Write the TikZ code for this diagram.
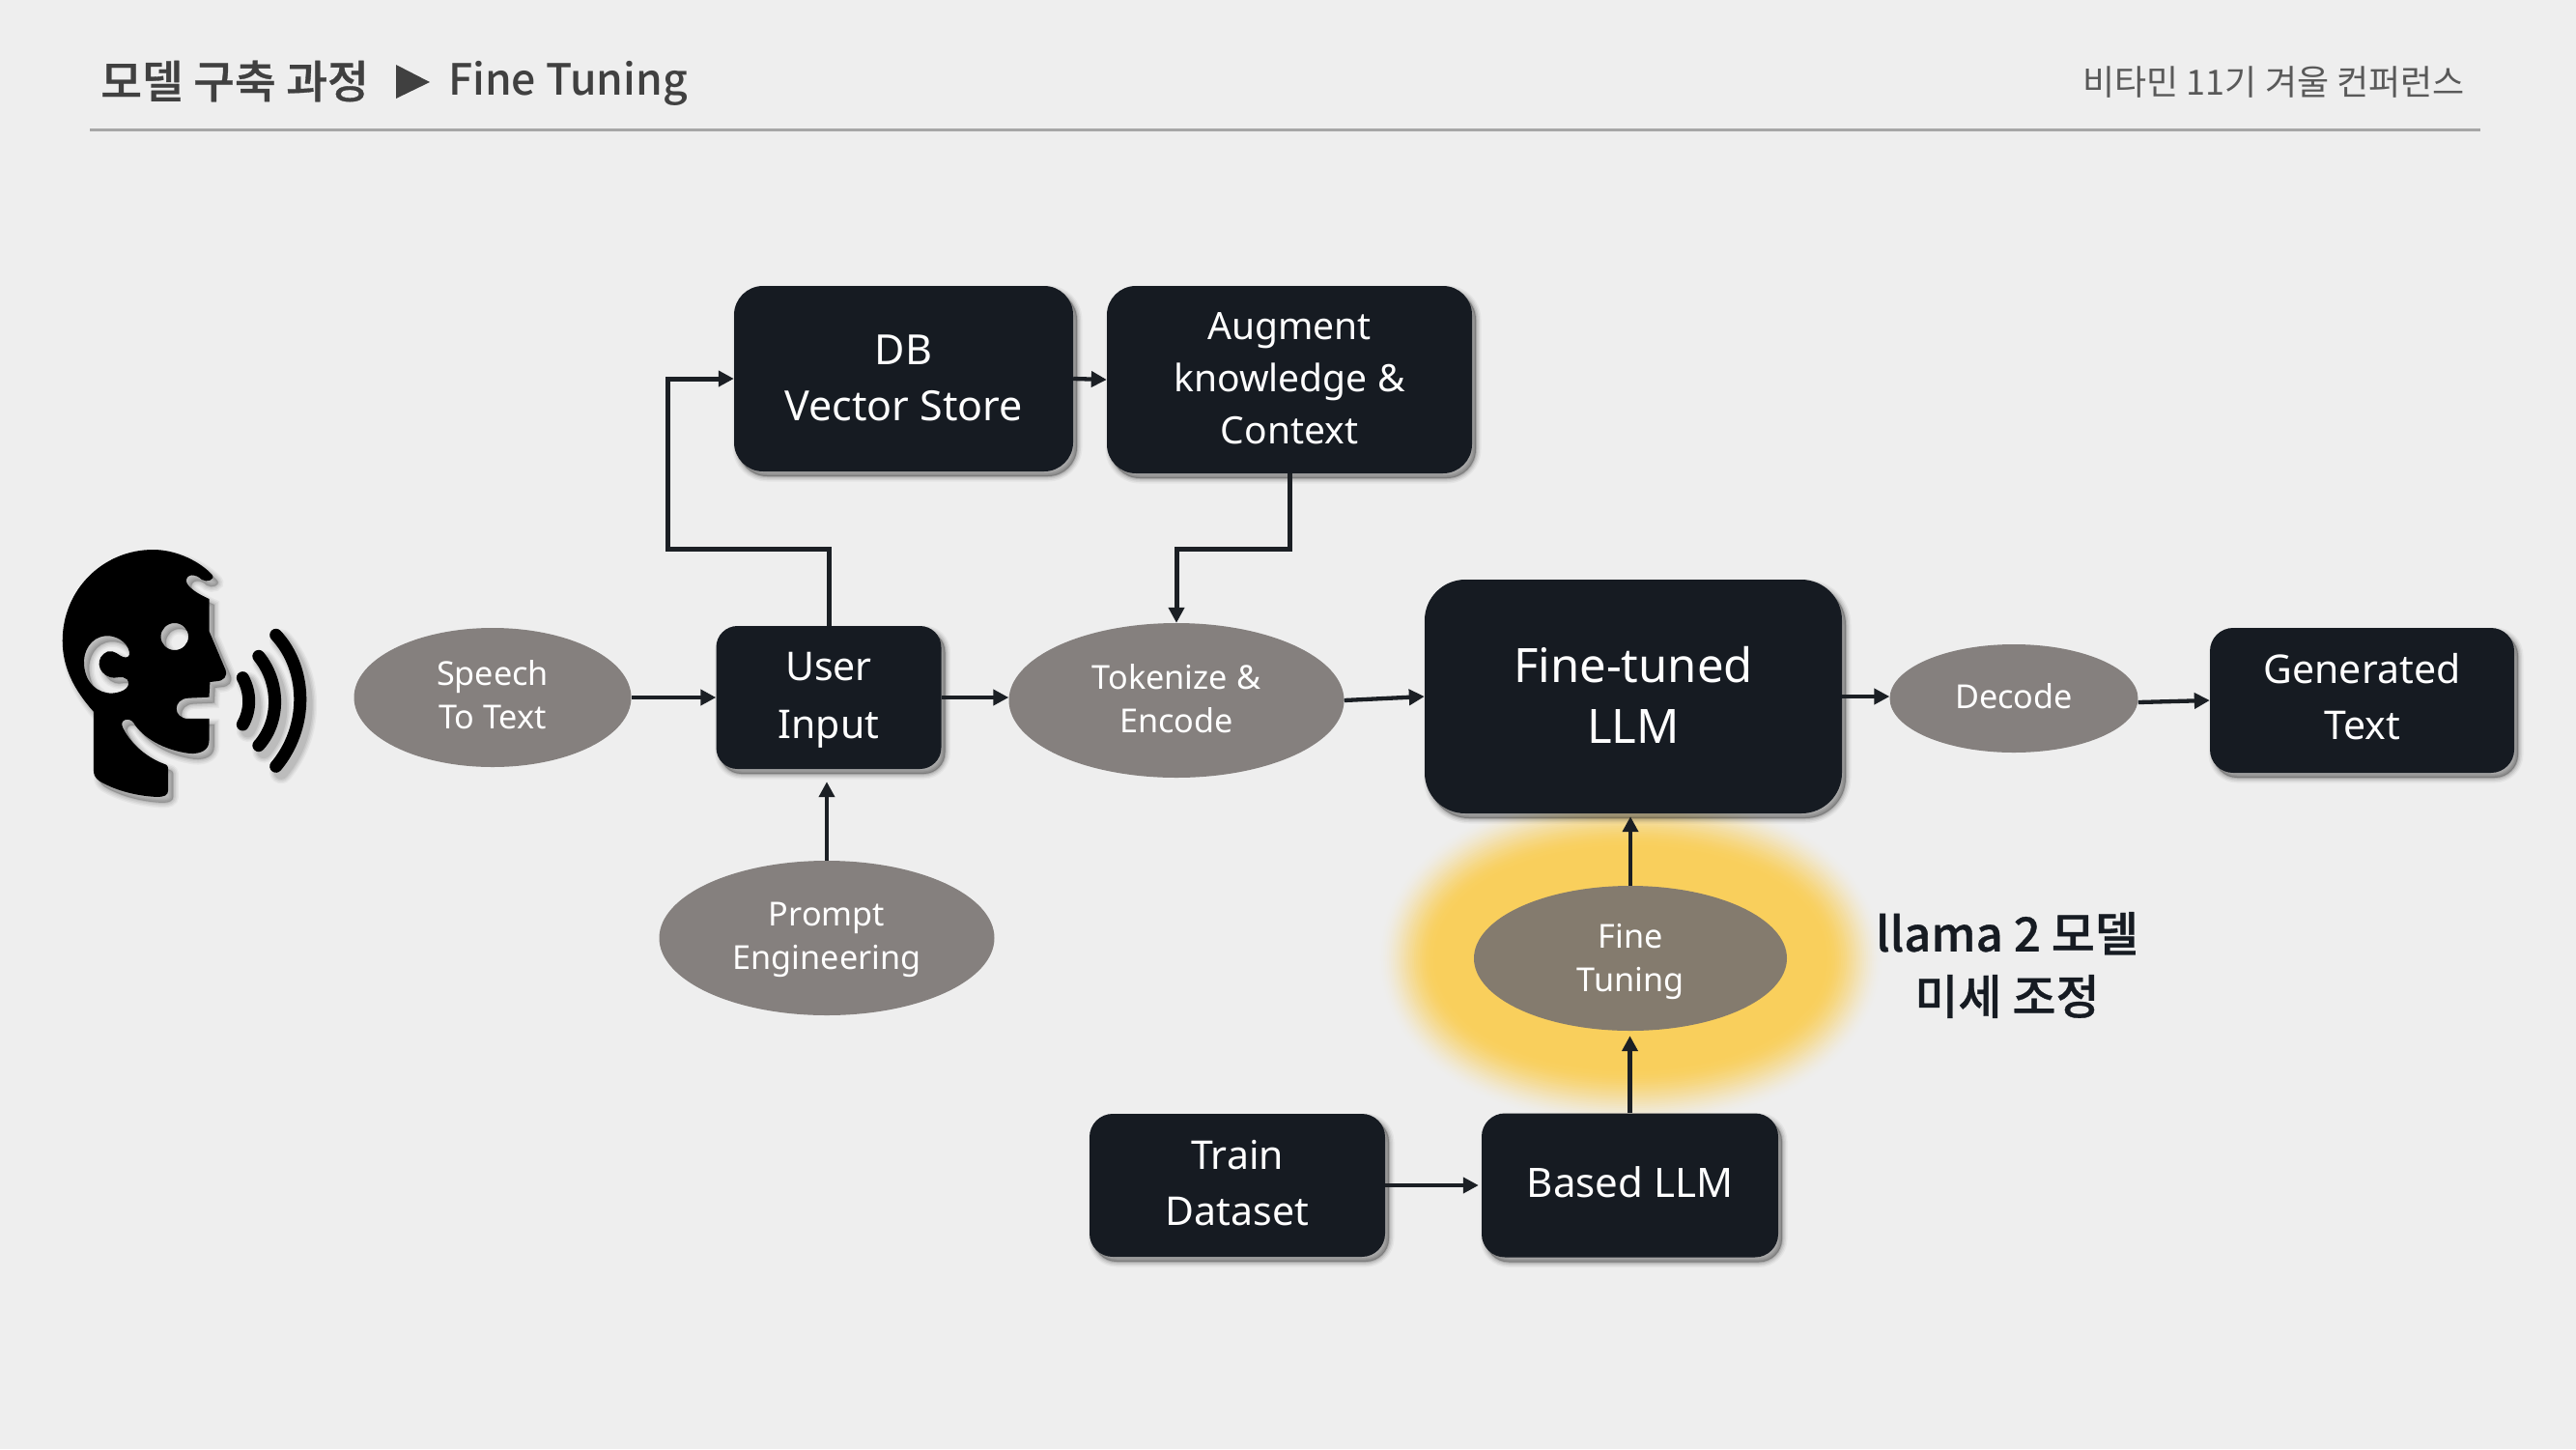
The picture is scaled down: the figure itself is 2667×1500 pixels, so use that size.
\documentclass[tikz,border=0pt]{standalone}
\usepackage{fontspec}
\setmainfont{Noto Sans}
\newfontfamily\kr{Noto Sans CJK KR}
\newfontfamily\krm{Noto Sans CJK KR Medium}
\newfontfamily\krb{Noto Sans CJK KR Medium}[FakeBold=0.7]
\usetikzlibrary{shapes.geometric,shadows,arrows.meta}
\definecolor{bgc}{HTML}{EEEEEE}
\definecolor{boxc}{HTML}{161B22}
\definecolor{ovalc}{HTML}{85807E}
\definecolor{tunec}{HTML}{847B6E}
\definecolor{glowc}{HTML}{F9CF5C}
\definecolor{titlec}{HTML}{404040}
\definecolor{subc}{HTML}{595959}
\definecolor{rulec}{HTML}{A6A6A6}
\definecolor{arrc}{HTML}{1B1F24}
\newcommand{\fsz}[2]{\fontsize{#1}{#2}\selectfont}
\tikzset{
  softshadow/.style={
    general shadow={draw=black,fill=black,opacity=.04,line width=11pt,shadow xshift=4pt,shadow yshift=-5pt},
    general shadow={draw=black,fill=black,opacity=.06,line width=8pt,shadow xshift=4pt,shadow yshift=-5pt},
    general shadow={draw=black,fill=black,opacity=.08,line width=5pt,shadow xshift=4pt,shadow yshift=-5pt},
    general shadow={draw=black,fill=black,opacity=.12,line width=2pt,shadow xshift=4pt,shadow yshift=-5pt}},
  boxn/.style={rectangle,fill=boxc,inner sep=0pt,softshadow},
  ovaln/.style={ellipse,fill=ovalc,inner sep=0pt},
  tx/.style={text=white,align=center,inner sep=0pt},
  otx/.style={tx,font=\fsz{34.2}{45}},
  arr/.style={draw=arrc,line width=4.3pt,-{Triangle[length=16pt,width=16pt]}},
  elbow/.style={arr,line width=5pt,line join=miter}
}
\newcommand{\headshape}{
  (355,147) .. controls (410,147) and (465,185) .. (492,225)
  .. controls (500,240) and (480,250) .. (468,240)
  .. controls (455,222) and (432,220) .. (432,245)
  .. controls (435,265) and (460,285) .. (485,300)
  -- (485,400) -- (523,520)
  .. controls (528,540) and (520,555) .. (500,556)
  -- (487,558) -- (485,605)
  -- (437,608) .. controls (400,610) and (400,672) .. (437,672)
  -- (485,672) -- (485,740)
  .. controls (485,770) and (465,782) .. (440,780)
  .. controls (380,770) and (330,730) .. (310,685)
  .. controls (300,665) and (275,675) .. (285,700)
  .. controls (305,755) and (345,795) .. (380,812)
  .. controls (388,815) and (390,820) .. (390,830)
  -- (390,895) .. controls (390,910) and (380,915) .. (365,915)
  .. controls (310,912) and (260,890) .. (230,865)
  .. controls (220,855) and (217,845) .. (217,830)
  -- (217,650)
  .. controls (170,580) and (145,510) .. (145,430)
  .. controls (145,270) and (240,147) .. (355,147) -- cycle
  (300,465) .. controls (295,430) and (265,412) .. (245,415)
  .. controls (210,418) and (192,465) .. (195,505)
  .. controls (198,560) and (225,593) .. (260,593)
  .. controls (290,590) and (305,570) .. (295,550)
  .. controls (285,535) and (265,550) .. (255,543)
  .. controls (225,530) and (220,480) .. (250,463)
  .. controls (265,458) and (275,475) .. (285,480)
  .. controls (295,485) and (302,478) .. (300,465) -- cycle
  (405,417) ellipse [x radius=32,y radius=42]
}
\newcommand{\wavesshape}{
  (563,545) .. controls (582,590) and (582,645) .. (563,690)
  (600,478) .. controls (650,560) and (650,680) .. (600,755)
  (640,412) .. controls (715,520) and (715,700) .. (640,820)
}
\begin{document}
\begin{tikzpicture}[x=1pt,y=-1pt]
\useasboundingbox (0,0) rectangle (2667,1500);
\fill[bgc] (0,0) rectangle (2667,1500);

% header
\node[anchor=west,inner sep=0pt,text=titlec,font=\krb\fsz{46.5}{50}] (title) at (104,84) {모델 구축 과정};
\fill[titlec] (410,67) -- (445,85) -- (410,102) -- cycle;
\node[anchor=west,inner sep=0pt,text=titlec,font=\krm\fsz{44.5}{50}] (sub) at (464,86) {Fine Tuning};
\node[anchor=east,inner sep=0pt,text=subc,font=\kr\fsz{36}{40}] (conf) at (2552,85) {비타민 11기 겨울 컨퍼런스};
\coordinate (ruleL) at (93,134);
\coordinate (ruleR) at (2568,134);
\draw[rulec,line width=3pt] (ruleL) -- (ruleR);

% speaker icon
\begin{scope}[shift={(0,520)},x=0.4464pt,y=-0.3333pt]
  \foreach \w/\o in {11/.04,8/.05,5/.06,2/.07}{
    \begin{scope}[shift={(12,18)}]
      \draw[black,fill=black,even odd rule,opacity=\o,line width=\w pt] \headshape;
      \draw[black,opacity=\o,line width=13pt+\w pt,line cap=round] \wavesshape;
    \end{scope}
  }
  \fill[black,even odd rule] \headshape;
  \draw[black,line width=13pt,line cap=round] \wavesshape;
\end{scope}

% glow
\foreach \d in {102,100,...,40}{
  \pgfmathsetmacro{\t}{(\d-40)/62}
  \pgfmathtruncatemacro{\p}{100*(1-\t*\t*(3-2*\t))}
  \draw[draw=glowc!\p!bgc,line width=2*\d pt,fill=glowc!\p!bgc] (1688,992) ellipse [x radius=162,y radius=75];
}

% boxes
\node[boxn,rounded corners=30pt,minimum width=351pt,minimum height=192pt,
  label={[tx,font=\fsz{43}{58},yshift=1pt]center:{DB\\Vector Store}}] (db) at (935.5,392) {};
\node[boxn,rounded corners=30pt,minimum width=378pt,minimum height=194pt,
  label={[tx,font=\fsz{39}{54},yshift=1pt]center:{Augment\\knowledge \&\\Context}}] (aug) at (1335,393) {};
\node[boxn,rounded corners=22pt,minimum width=233pt,minimum height=148pt,
  label={[tx,font=\fsz{41}{60},yshift=-3pt]center:{User\\Input}}] (user) at (858,722) {};
\node[boxn,rounded corners=42pt,minimum width=432pt,minimum height=242pt,
  label={[tx,font=\fsz{49}{63},yshift=2pt]center:{Fine-tuned\\LLM}}] (ft) at (1691,721) {};
\node[boxn,rounded corners=24pt,minimum width=315pt,minimum height=150pt,
  label={[tx,font=\fsz{41}{58},yshift=4pt]center:{Generated\\Text}}] (gen) at (2445.5,725) {};
\node[boxn,rounded corners=24pt,minimum width=306pt,minimum height=148pt,
  label={[tx,font=\fsz{41}{58},yshift=2pt]center:{Train\\Dataset}}] (train) at (1281,1227) {};
\node[boxn,rounded corners=24pt,minimum width=307pt,minimum height=149pt,
  label={[tx,font=\fsz{42}{58},yshift=3pt]center:{Based LLM}}] (based) at (1687.5,1227) {};

% ovals
\node[ovaln,minimum width=287pt,minimum height=144pt,
  label={[otx,yshift=3pt]center:{Speech\\To Text}}] (stt) at (510,722) {};
\node[ovaln,minimum width=347pt,minimum height=160pt,
  label={[otx,yshift=-2pt]center:{Prompt\\Engineering}}] (prompt) at (856,971) {};
\node[ovaln,minimum width=347pt,minimum height=160pt,
  label={[otx,yshift=2pt]center:{Tokenize \&\\Encode}}] (tok) at (1218,725) {};
\node[ovaln,minimum width=257pt,minimum height=112pt,
  label={[otx,yshift=2pt]center:{Decode}}] (dec) at (2085,723) {};
\node[ovaln,fill=tunec,minimum width=324pt,minimum height=150pt,
  label={[otx,yshift=-3pt]center:{Fine\\Tuning}}] (tune) at (1688,992) {};

% side label
\node[inner sep=0pt,align=center,text=boxc,font=\krb\fsz{49}{65}] (llama) at (2078,999) {llama 2 모델\\미세 조정};

% connectors
\coordinate (k) at (691,568);
\coordinate (m) at (1218,568);
\draw[arr] (stt.east) -- (user.west);
\draw[arr] (user.east) -- (user.east -| tok.west);
\draw[arr] (tok.east) -- (ft.west);
\draw[arr] (ft.east) -- (ft.east -| dec.west);
\draw[arr] ([yshift=-4pt]dec.east) -- (gen.west);
\draw[arr] (db.east) -- (aug.west);
\draw[elbow] (user.north) -- (user.north |- k) -- (k) -- (k |- db.west) -- (db.west);
\draw[elbow] (aug.south) -- (aug.south |- m) -- (m) -- (tok.north);
\draw[arr,shorten >=13pt] (prompt.north) -- (prompt.north |- user.south);
\draw[arr,shorten >=3pt] (tune.north) -- (tune.north |- ft.south);
\draw[arr,shorten >=5pt] (based.north) -- (based.north |- tune.south);
\draw[arr,shorten >=3pt] (train.east) -- (based.west);
\end{tikzpicture}
\end{document}
